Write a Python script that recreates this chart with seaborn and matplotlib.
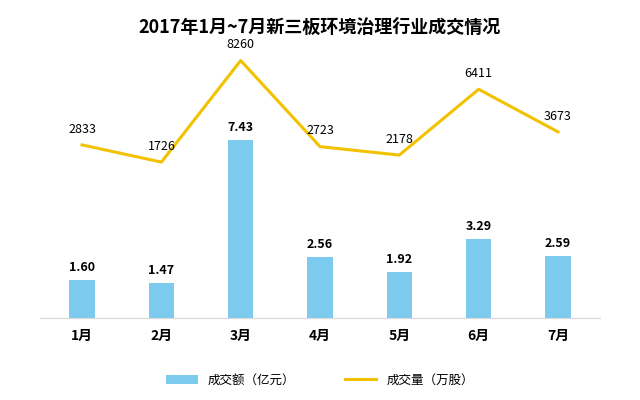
import matplotlib
matplotlib.use("Agg")
import matplotlib.pyplot as plt
from matplotlib import font_manager
import seaborn as sns
import pandas as pd

months = ["1月", "2月", "3月", "4月", "5月", "6月", "7月"]
amount = [1.60, 1.47, 7.43, 2.56, 1.92, 3.29, 2.59]
volume = [2833, 1726, 8260, 2723, 2178, 6411, 3673]

names = {f.name for f in font_manager.fontManager.ttflist}
cjk = [n for n in ["Noto Sans CJK SC", "Noto Sans CJK JP", "Noto Sans CJK TC", "Noto Sans CJK KR"] if n in names]
plt.rcParams["font.family"] = "sans-serif"
plt.rcParams["font.sans-serif"] = cjk + ["DejaVu Sans"]
df = pd.DataFrame({"m": months, "a": amount, "v": volume})

fig = plt.figure(figsize=(6.4, 4), dpi=100)
ax = fig.add_axes([0.0625, 0.205, 0.875, 0.6575])
sns.barplot(data=df, x="m", y="a", ax=ax, color="#7ccbef", width=0.32, saturation=1, label="成交额（亿元）")
ax.set_ylim(0, 10.96)
ax.set_xlim(-0.53, 6.53)
for i, v in enumerate(amount):
    ax.text(i, v + 0.25, f"{v:.2f}", ha="center", va="bottom", fontsize=9, fontweight="bold")
ax2 = ax.twinx()
sns.lineplot(x=list(range(7)), y=volume, ax=ax2, color="#f2c200", linewidth=2.2, label="成交量（万股）")
ax2.set_ylim(-8300, 8616)
for i, v in enumerate(volume):
    ax2.text(i, v + 600, str(v), ha="center", va="bottom", fontsize=9)
for a in (ax, ax2):
    a.set_yticks([])
    a.set_xlabel("")
    a.set_ylabel("")
    for s in a.spines.values():
        s.set_visible(False)
ax.spines["bottom"].set_visible(True)
ax.spines["bottom"].set_color("#d9d9d9")
ax.tick_params(axis="x", length=0, pad=8)
for t in ax.get_xticklabels():
    t.set_fontweight("bold")
    t.set_fontsize(10)
h1, l1 = ax.get_legend_handles_labels()
h2, l2 = ax2.get_legend_handles_labels()
for a in (ax, ax2):
    if a.get_legend() is not None:
        a.get_legend().remove()
fig.legend(h1 + h2, l1 + l2, loc="center", bbox_to_anchor=(0.5, 0.05), ncol=2, frameon=False,
           fontsize=9, handlelength=2.5, columnspacing=4)
fig.suptitle("2017年1月~7月新三板环境治理行业成交情况", y=0.955, fontsize=13, fontweight="bold")
fig.savefig("out.png")
